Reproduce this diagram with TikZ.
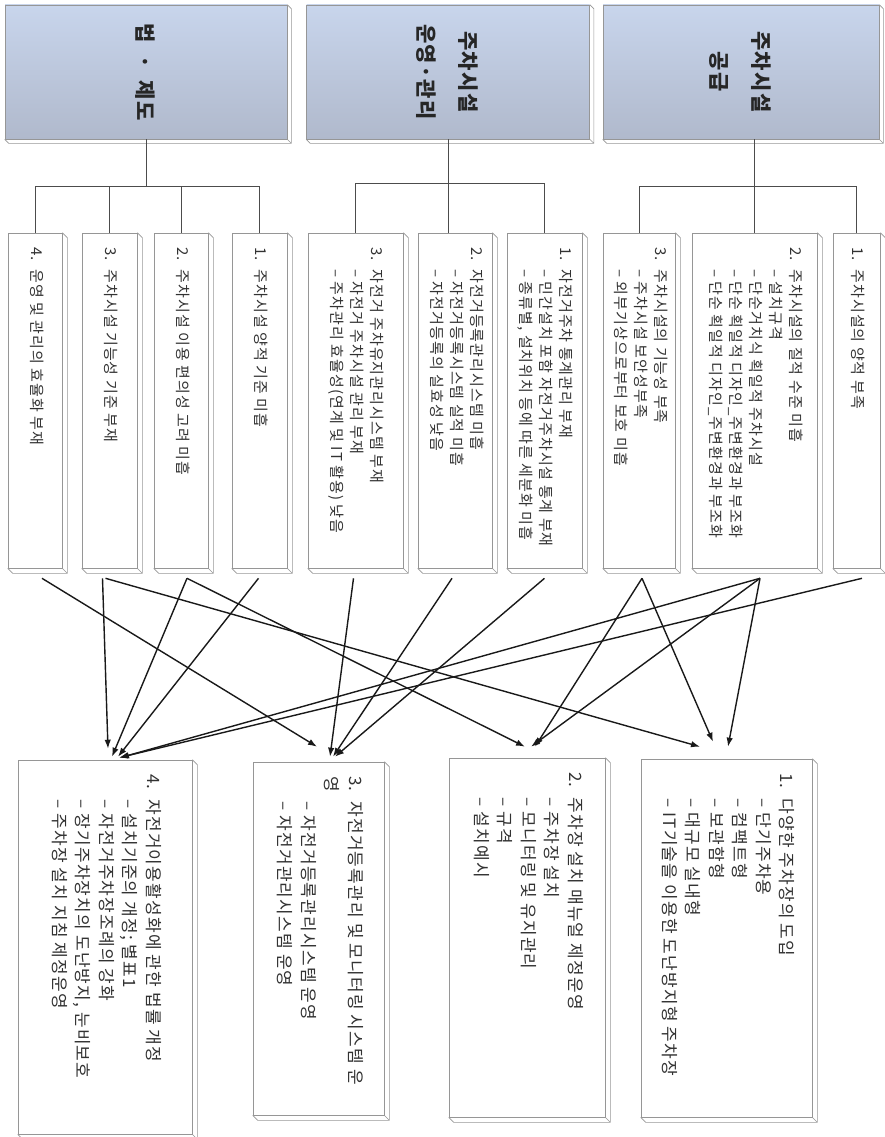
\documentclass[tikz,border=0pt]{standalone}
\usepackage{fontspec}
\newfontfamily\kr[LetterSpace=7]{Noto Sans CJK KR}
\usepackage{graphicx}
\usetikzlibrary{arrows.meta, calc}

\newcommand{\lbl}[1]{\makebox[1.5em][l]{#1}}
\newcommand{\itm}{\makebox[1.5em]{}–~}
\newcommand{\vtxt}[2]{\rotatebox{-90}{\makebox[#1][l]{\begin{tabular}{@{}l@{}}#2\end{tabular}}}}
\newcommand{\vhead}[1]{\rotatebox{-90}{\begin{tabular}{@{}c@{}}#1\end{tabular}}}

\begin{document}
\begin{tikzpicture}[
  x=1pt, y=-1pt,
  execute at begin picture={
    \definecolor{headtop}{RGB}{200,213,236}
    \definecolor{headbot}{RGB}{176,185,204}
    \definecolor{edgegray}{RGB}{150,150,150}
    \definecolor{inkgray}{RGB}{50,50,50}
  },
  >={Latex[length=9pt,width=6.5pt]},
  head/.style={
    draw=edgegray,
    line width=0.6pt,
    top color=headtop,
    bottom color=headbot,
    inner sep=0pt,
    minimum height=134pt,
    font=\kr\bfseries\fontsize{21}{42}\selectfont,
    text=black!85
  },
  issue/.style={
    draw=edgegray,
    line width=0.6pt,
    fill=white,
    inner sep=0pt,
    minimum height=335pt,
    font=\kr\fontsize{15}{20}\selectfont,
    text=inkgray
  },
  plan/.style={
    draw=edgegray,
    line width=0.6pt,
    fill=white,
    inner sep=0pt,
    font=\kr\fontsize{17}{23.5}\selectfont,
    text=inkgray
  },
  rim/.style={draw=edgegray, line width=0.6pt},
  branch/.style={draw=black!70, line width=0.9pt},
  link/.style={->, draw=black!90, line width=1.4pt}
]
\useasboundingbox (0,0) rectangle (885,1137);

% headers
\node[head, minimum width=282pt] (hA) at (146,72) {\vhead{법~~·~~제도}};
\node[head, minimum width=283pt] (hB) at (448,72) {\vhead{주차시설\\운영·관리}};
\node[head, minimum width=276pt] (hC) at (741,72) {\vhead{주차시설\\공급}};

% problems
\node[issue, minimum width=54pt] (L4) at (35,400.5)
  {\vtxt{307pt}{\lbl{4.}운영 및 관리의 효율화 부재}};
\node[issue, minimum width=55pt] (L3) at (109.5,400.5)
  {\vtxt{307pt}{\lbl{3.}주차시설 기능성 기준 부재}};
\node[issue, minimum width=54pt] (L2) at (181,400.5)
  {\vtxt{307pt}{\lbl{2.}주차시설 이용 편의성 고려 미흡}};
\node[issue, minimum width=55pt] (L1) at (259.5,400.5)
  {\vtxt{307pt}{\lbl{1.}주차시설 양적 기준 미흡}};

\node[issue, minimum width=95pt] (M3) at (355.5,400.5)
  {\vtxt{307pt}{\lbl{3.}자전거 주차유지관리시스템 부재\\
   \itm 자전거 주차시설 관리 부재\\
   \itm 주차관리 효율성(연계 및 IT 활용) 낮음}};
\node[issue, minimum width=74pt] (M2) at (455,400.5)
  {\vtxt{307pt}{\lbl{2.}자전거등록관리시스템 미흡\\
   \itm 자전거등록시스템 실적 미흡\\
   \itm 자전거등록의 실효성 낮음}};
\node[issue, minimum width=75pt] (M1) at (544.5,400.5)
  {\vtxt{307pt}{\lbl{1.}자전거주차 통계관리 부재\\
   \itm 민간설치 포함 자전거주차시설 통계 부재\\
   \itm 종류별, 설치위치 등에 따른 세분화 미흡}};

\node[issue, minimum width=72pt] (R3) at (639,400.5)
  {\vtxt{307pt}{\lbl{3.}주차시설의 기능성 부족\\
   \itm 주차시설 보안성부족\\
   \itm 외부기상으로부터 보호 미흡}};
\node[issue, minimum width=125pt] (R2) at (754.5,400.5)
  {\vtxt{307pt}{\lbl{2.}주차시설의 질적 수준 미흡\\
   \itm 설치규격\\
   \itm 단순거치식 획일적 주차시설\\
   \itm 단순 획일적 디자인\_주변환경과 부조화\\
   \itm 단순 획일적 디자인\_주변환경과 부조화}};
\node[issue, minimum width=47pt] (R1) at (856.5,400.5)
  {\vtxt{307pt}{\lbl{1.}주차시설의 양적 부족}};

% measures
\node[plan, minimum width=174pt, minimum height=374pt] (B4) at (105,947)
  {\vtxt{346pt}{\lbl{4.}자전거이용활성화에 관한 법률 개정\\
   \itm 설치기준의 개정; 별표1\\
   \itm 자전거주차장조례의 강화\\
   \itm 장기주차장치의 도난방지, 눈비보호\\
   \itm 주차장 설치 지침 제정운영}};
\node[plan, minimum width=131pt, minimum height=353pt] (B3) at (318.5,938.5)
  {\vtxt{325pt}{\lbl{3.}자전거등록관리 및 모니터링 시스템 운\\
   영\\
   \itm 자전거등록관리시스템 운영\\
   \itm 자전거관리시스템 운영}};
\node[plan, minimum width=156pt, minimum height=359pt] (B2) at (527,937.5)
  {\vtxt{331pt}{\lbl{2.}주차장 설치 매뉴얼 제정운영\\
   \itm 주차장 설치\\
   \itm 모니터링 및 유지관리\\
   \itm 규격\\
   \itm 설치예시}};
\node[plan, minimum width=171pt, minimum height=358pt] (B1) at (726.5,938)
  {\vtxt{330pt}{\lbl{1.}다양한 주차장의 도입\\
   \itm 단기주차용\\
   \itm 컴팩트형\\
   \itm 보관함형\\
   \itm 대규모 실내형\\
   \itm IT기술을 이용한 도난방지형 주차장}};

% 3d rims
\foreach \b in {hA,hB,hC}
  \draw[rim] (\b.north east) -- ++(4,4) |- ($(\b.south west)+(4,4)$) -- (\b.south west)
    (\b.south east) -- ++(4,4);
\foreach \b in {L1,L2,L3,L4,M1,M2,M3,R1,R2,R3,B1,B2,B3,B4}
  \draw[rim] (\b.north east) -- ++(5,5) |- ($(\b.south west)+(5,5)$) -- (\b.south west)
    (\b.south east) -- ++(5,5);

% tree
\coordinate (barA) at (0,186);
\coordinate (barB) at (0,183);
\coordinate (barC) at (0,186);
\draw[branch] (hA.south) -- (hA.south |- barA);
\draw[branch] (L4.north) |- (L1.north |- barA) -- (L1.north);
\draw[branch] (L3.north) -- (L3.north |- barA);
\draw[branch] (L2.north) -- (L2.north |- barA);
\draw[branch] (hB.south) -- (hB.south |- M2.north);
\draw[branch] (M3.north) |- (M1.north |- barB) -- (M1.north);
\draw[branch] (hC.south -| R2.north) -- (R2.north);
\draw[branch] (R3.north) |- (R1.north |- barC) -- (R1.north);

% problem -> measure
\foreach \s/\sx/\t/\tx/\ty in {L4/7/B3/-1.5/15, L3/-7/B4/3/11, L3/-4/B1/-26.5/12,
    L2/6/B2/-2/11, L2/6/B4/7/3, L1/-1/B4/13/3, M3/-2/B3/11.5/5, M2/-3/B3/14.5/5,
    M1/0/B3/16.5/5, R3/3/B2/8/11, R3/3/B1/-13.5/17, R2/5.5/B2/4/11,
    R2/5.5/B1/1.5/12, R2/5.5/B4/15/2, R1/5.5/B4/14/2}
  \draw[link] ([xshift=\sx pt, yshift=-10pt]\s.south) -- ([xshift=\tx pt, yshift=\ty pt]\t.north);

\end{tikzpicture}
\end{document}
